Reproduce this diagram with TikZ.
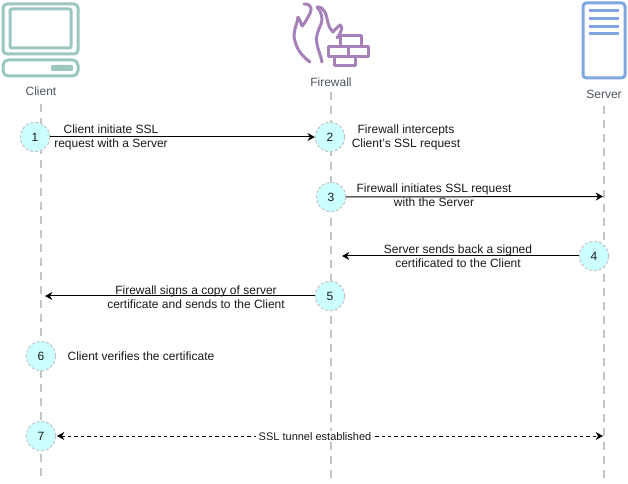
\documentclass[tikz,border=0pt]{standalone}
\usepackage{fontspec}
\setmainfont{Liberation Sans}
\usetikzlibrary{arrows.meta}
\definecolor{cl}{HTML}{9AC7BF}
\definecolor{fw}{HTML}{A680B8}
\definecolor{sv}{HTML}{7EA6E0}
\definecolor{ink}{HTML}{1A1A1A}
\definecolor{lab}{HTML}{4D5560}
\definecolor{life}{HTML}{C4C4C4}
\definecolor{stepfill}{HTML}{CCFFFF}
\tikzset{
 every node/.style={font=\fontsize{9pt}{10.5pt}\selectfont,text=ink,align=center,inner sep=0pt},
 stepc/.style={circle,draw=life,fill=stepfill,minimum size=22pt,line width=.75pt,dash pattern=on 2.2pt off 1.5pt},
 lifeline/.style={draw=life,line width=1.5pt,dash pattern=on 6pt off 4.5pt},
 msg/.style={draw=black,line width=.75pt,-{Stealth[length=5.5pt,width=6pt]}},
 msgd/.style={draw=black,line width=.75pt,dash pattern=on 2.6pt off 2.2pt,{Stealth[length=5.5pt,width=6pt]}-{Stealth[length=5.5pt,width=6pt]}},
 iconlab/.style={text=lab},
}
\begin{document}
\begin{tikzpicture}[x=0.75pt,y=-0.75pt]
\useasboundingbox (0,0) rectangle (628,484);
\fill[white] (0,0) rectangle (628,484);
% lifeline ends
\coordinate (ct) at (41,104); \coordinate (cb) at (41,480);
\coordinate (ft) at (331,92); \coordinate (fb) at (331,480);
\coordinate (st) at (604,106); \coordinate (sb) at (604,480);
\draw[lifeline] (ct)--(cb);
\draw[lifeline] (ft)--(fb);
\draw[lifeline] (st)--(sb);
% client icon
\begin{scope}[draw=cl,line width=2.25pt]
\draw[rounded corners=3pt] (3,4) rectangle (78,54);
\draw[rounded corners=1.5pt] (10,9) rectangle (71,48);
\draw[rounded corners=4pt] (3,60) rectangle (78,76);
\fill[cl,rounded corners=1pt] (51,65) rectangle (73,71);
\end{scope}
% firewall icon
\begin{scope}[draw=fw,line width=2.25pt,line join=round,line cap=round]
\draw (304,4) .. controls (312,4) and (313,9) .. (308,17) .. controls (306,21) and (304,24) .. (302,26) .. controls (301,23) and (300,20) .. (298,17) .. controls (297,26) and (292,32) .. (295,41) .. controls (297,50) and (303,57) .. (310,62);
\draw (317,7) .. controls (325,7) and (326,14) .. (328,23) .. controls (329,27) and (331,30) .. (333,32) .. controls (335,29) and (338,27) .. (340,25) .. controls (343,27) and (342,31) .. (337,38);
\draw (317,7) .. controls (322,13) and (323,18) .. (321,24) .. controls (318,31) and (315,38) .. (317,44) .. controls (318,50) and (321,56) .. (322,62);
\draw[fill=white] (328,47) rectangle (368,57);
\draw[fill=white] (340,36) rectangle (361,47);
\draw[fill=white] (334,57) rectangle (355,66);
\draw (348,47) -- (348,57);
\end{scope}
% server icon
\begin{scope}[draw=sv]
\draw[line width=2.25pt,rounded corners=2.5pt] (583,3) rectangle (625,78);
\draw[line width=2.25pt] (589,11) -- (619,11) (589,19) -- (619,19) (589,27) -- (619,27) (589,34) -- (619,34);
\end{scope}
% icon labels
\node[iconlab] (clientlab) at (41,91) {Client};
\node[iconlab] (fwlab) at (331,82) {Firewall};
\node[iconlab] (svlab) at (604,94.5) {Server};
% steps
\node[stepc] (s1) at (35,137) {1};
\node[stepc] (s2) at (330,137) {2};
\node[stepc] (s3) at (331,197) {3};
\node[stepc] (s4) at (594,256) {4};
\node[stepc] (s5) at (330,296) {5};
\node[stepc] (s6) at (41,356) {6};
\node[stepc] (s7) at (41,436) {7};
% connector end points
\coordinate (e3) at (603,196.5);
\coordinate (e4) at (342,256);
\coordinate (e5) at (45,296);
\coordinate (e7) at (603,436);
\draw[msg] (s1) -- (s2);
\draw[msg] (s3.east) -- (e3);
\draw[msg] (s4.west) -- (e4);
\draw[msg] (s5.west) -- (e5);
\coordinate (s7e) at (57,436);
\draw[msgd] (s7e) -- (e7);
\node[fill=white,inner xsep=2pt,inner ysep=1pt,font=\fontsize{8.25pt}{10pt}\selectfont] (tun) at (315,436.5) {SSL tunnel established};
% texts
\node (t1) at (111,137.5) {Client initiate SSL\\request with a Server};
\node (t2) at (406,137.5) {Firewall intercepts\\Client's SSL request};
\node (t3) at (434,195) {Firewall initiates SSL request\\with the Server};
\node (t4) at (458,256.5) {Server sends back a signed\\certificated to the Client};
\node (t5) at (196,297) {Firewall signs a copy of server\\certificate and sends to the Client};
\node (t6) at (141,356.5) {Client verifies the certificate};
\end{tikzpicture}
\end{document}
